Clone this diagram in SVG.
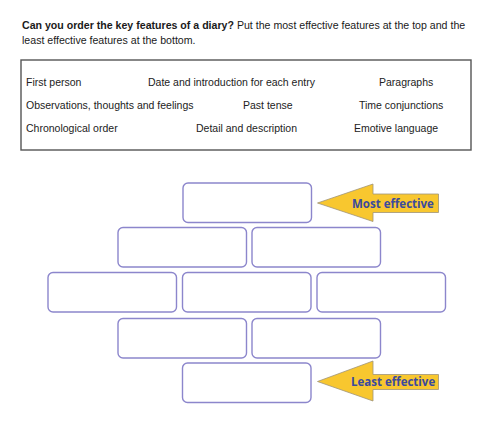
<svg xmlns="http://www.w3.org/2000/svg" width="500" height="422" viewBox="0 0 500 422">
<style>
.h{font-family:"Liberation Sans",Arial,sans-serif;font-size:10.6px;fill:#1a1a1a}
.t{font-family:"Liberation Sans",Arial,sans-serif;font-size:10.5px;fill:#222}
.brick{fill:#fff;stroke:#8c86cc;stroke-width:1.4}
.arrow{fill:#f8c72f;stroke:#a09478;stroke-width:0.8}
.lab{font-family:"Open Sans",Lato,sans-serif;font-weight:bold;font-size:11.5px;fill:#3b4a9e}
</style>
<rect width="500" height="422" fill="#fff"/>
<g id="heading">
<text class="h" x="22" y="29"><tspan font-weight="bold">Can you order the key features of a diary?</tspan> Put the most effective features at the top and the</text>
<text class="h" x="22" y="44">least effective features at the bottom.</text>
</g>
<g id="features">
<rect x="21" y="60" width="450" height="90" fill="none" stroke="#555" stroke-width="1.4"/>
<text class="t" x="26" y="86">First person</text>
<text class="t" x="148" y="86">Date and introduction for each entry</text>
<text class="t" x="379" y="86">Paragraphs</text>
<text class="t" x="26" y="109">Observations, thoughts and feelings</text>
<text class="t" x="243" y="109">Past tense</text>
<text class="t" x="359" y="109">Time conjunctions</text>
<text class="t" x="26" y="132">Chronological order</text>
<text class="t" x="196" y="132">Detail and description</text>
<text class="t" x="354" y="132">Emotive language</text>
</g>
<g id="brick-r1"><rect class="brick" x="183" y="183" width="128.5" height="39.5" rx="5"/></g>
<g id="brick-r2a"><rect class="brick" x="118" y="227.5" width="128.5" height="39.5" rx="5"/></g>
<g id="brick-r2b"><rect class="brick" x="252" y="227.5" width="128.5" height="39.5" rx="5"/></g>
<g id="brick-r3a"><rect class="brick" x="48" y="272.5" width="128.5" height="39.5" rx="5"/></g>
<g id="brick-r3b"><rect class="brick" x="182.5" y="272.5" width="128.5" height="39.5" rx="5"/></g>
<g id="brick-r3c"><rect class="brick" x="317" y="272.5" width="128.5" height="39.5" rx="5"/></g>
<g id="brick-r4a"><rect class="brick" x="118" y="318.5" width="128.5" height="39.5" rx="5"/></g>
<g id="brick-r4b"><rect class="brick" x="252" y="318.5" width="128.5" height="39.5" rx="5"/></g>
<g id="brick-r5"><rect class="brick" x="182.5" y="363" width="128.5" height="39.5" rx="5"/></g>
<g id="most-effective">
<path class="arrow" d="M317.5,203 L373,184 L373,194 L438.5,194 L438.5,212.5 L373,212.5 L373,221.5 Z"/>
<text class="lab" x="352" y="207.5">Most effective</text>
</g>
<g id="least-effective">
<path class="arrow" d="M317.5,381.5 L373,361 L373,374.5 L438.5,374.5 L438.5,389.5 L373,389.5 L373,401 Z"/>
<text class="lab" x="351" y="385.5">Least effective</text>
</g>
</svg>
